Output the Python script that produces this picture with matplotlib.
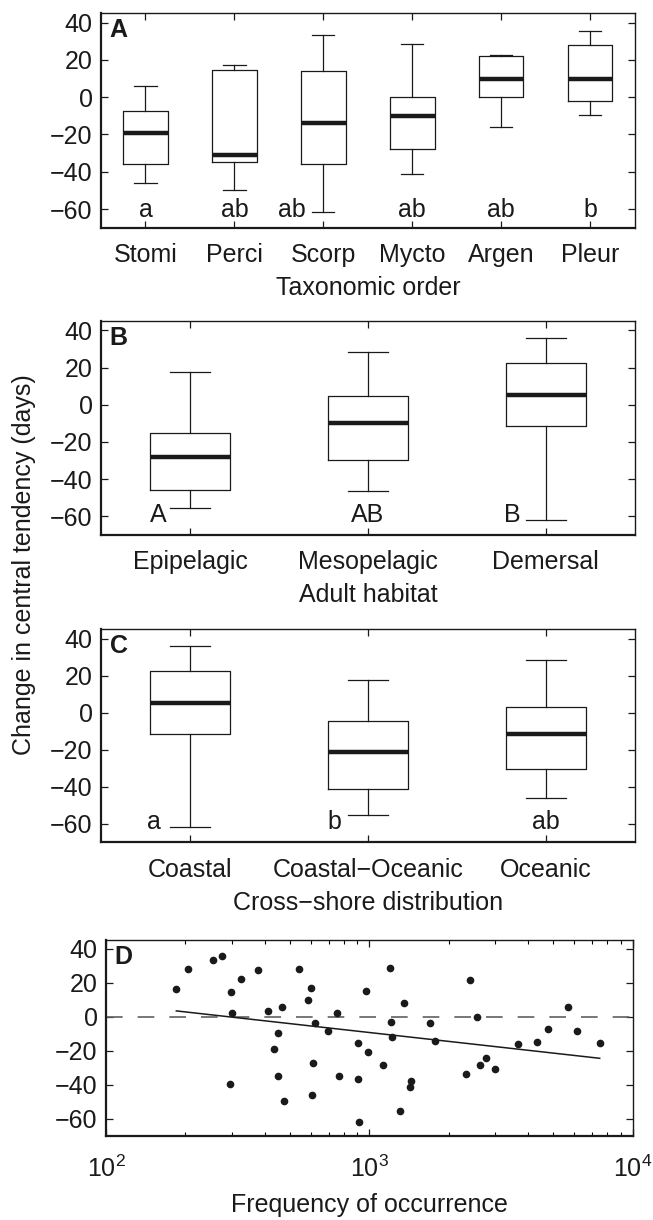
import numpy as np
import matplotlib
matplotlib.use('Agg')
import matplotlib.pyplot as plt
from matplotlib.ticker import LogLocator, NullFormatter

plt.rcParams['font.family'] = ['Liberation Sans', 'DejaVu Sans']
plt.rcParams['mathtext.fontset'] = 'custom'
plt.rcParams['mathtext.rm'] = 'Liberation Sans'
plt.rcParams['axes.unicode_minus'] = True

# ---- panel A: taxonomic order ----
tax_names = ['Stomi', 'Perci', 'Scorp', 'Mycto', 'Argen', 'Pleur']
tax_whislo = [-46.3, -50.0, -61.7, -41.3, -16.1, -9.3]
tax_q1 = [-36.0, -34.7, -35.8, -27.9, 0.2, -2.0]
tax_med = [-19.0, -31.0, -14.0, -10.2, 10.0, 9.5]
tax_q3 = [-7.2, 14.5, 14.1, 0.0, 22.2, 28.1]
tax_whishi = [5.9, 17.2, 33.6, 28.4, 22.7, 35.6]
tax_letters = ['a', 'ab', 'ab', 'ab', 'ab', 'b']
tax_letter_x = [1, 2, 2.65, 4, 5, 6]

# ---- panel B: adult habitat ----
hab_names = ['Epipelagic', 'Mesopelagic', 'Demersal']
hab_whislo = [-55.4, -46.4, -61.8]
hab_q1 = [-45.7, -29.6, -11.5]
hab_med = [-28.1, -10.0, 5.4]
hab_q3 = [-15.0, 4.7, 22.6]
hab_whishi = [17.4, 28.5, 35.8]
hab_letters = ['A', 'AB', 'B']
hab_letter_x = [0.82, 2.0, 2.81]

# ---- panel C: cross-shore distribution ----
cs_names = ['Coastal', 'Coastal\u2212Oceanic', 'Oceanic']
cs_whislo = [-61.5, -55.1, -46.2]
cs_q1 = [-11.4, -41.5, -30.2]
cs_med = [5.4, -21.5, -11.8]
cs_q3 = [22.4, -4.5, 3.0]
cs_whishi = [35.8, 17.4, 28.6]
cs_letters = ['a', 'b', 'ab']
cs_letter_x = [0.80, 1.81, 3.0]

# ---- panel D: frequency of occurrence vs change ----
freq = [185, 204, 254, 275, 327, 378, 299, 302, 297, 412, 464, 449, 434, 451,
        475, 539, 599, 585, 620, 612, 606, 698, 753, 767, 908, 908, 916, 971,
        985, 1130, 1198, 1211, 1222, 1358, 1304, 1439, 1426, 1698, 1770, 2416,
        2562, 2323, 2630, 2773, 2991, 3680, 4346, 4770, 5680, 6122, 7494]
change = [16.7, 28.1, 33.6, 35.6, 22.6, 27.9, 14.6, 2.0, -39.3, 3.4, 6.1, -9.4,
          -19.0, -34.8, -49.7, 28.5, 17.3, 10.2, -3.7, -27.1, -46.3, -8.4, 2.2,
          -35.1, -15.3, -36.7, -62.1, 15.0, -20.8, -28.3, 28.7, -3.1, -11.8, 8.1,
          -55.4, -37.9, -41.2, -3.5, -14.1, 22.0, 0.0, -33.8, -28.1, -24.1,
          -31.0, -16.1, -14.9, -7.2, 5.7, -8.4, -15.3]

FS = 18
TXT = '#1a1a1a'


def style_axes(ax):
    ax.tick_params(direction='in', top=True, right=True, length=5, width=0.9,
                   labelsize=FS, colors=TXT)
    ax.tick_params(axis='x', pad=11)
    ax.tick_params(axis='y', pad=6)
    ax.tick_params(which='minor', direction='in', top=True, right=True,
                   length=3, width=0.8)
    for side in ['top', 'right']:
        ax.spines[side].set_linewidth(1.0)
    for side in ['left', 'bottom']:
        ax.spines[side].set_linewidth(1.6)
    for sp in ax.spines.values():
        sp.set_color(TXT)
    ax.set_ylim(-70, 45)
    ax.set_yticks([-60, -40, -20, 0, 20, 40])


def box_panel(ax, names, lo, q1, med, q3, hi, width):
    stats = []
    for i in range(len(names)):
        stats.append(dict(med=med[i], q1=q1[i], q3=q3[i], whislo=lo[i],
                          whishi=hi[i], fliers=[], label=names[i]))
    ax.bxp(stats, positions=range(1, len(names) + 1), widths=width,
           showfliers=False,
           boxprops=dict(color=TXT, linewidth=0.9),
           whiskerprops=dict(color=TXT, linewidth=0.9),
           capprops=dict(color=TXT, linewidth=0.9),
           medianprops=dict(color=TXT, linewidth=3.2))
    ax.set_xlim(0.5, len(names) + 0.5)
    style_axes(ax)


def panel_letter(ax, s):
    ax.text(0.016, 0.978, s, transform=ax.transAxes, fontsize=FS,
            fontweight='bold', va='top', ha='left', color=TXT)


fig = plt.figure(figsize=(6.53, 12.2), dpi=100)

axA = fig.add_axes([0.1547, 0.8134, 0.8172, 0.1757])
box_panel(axA, tax_names, tax_whislo, tax_q1, tax_med, tax_q3, tax_whishi, 0.5)
for x, s in zip(tax_letter_x, tax_letters):
    axA.text(x, -64.5, s, ha='center', va='baseline', fontsize=FS, color=TXT)
axA.set_xlabel('Taxonomic order', fontsize=FS, color=TXT, labelpad=6.5)
panel_letter(axA, 'A')

axB = fig.add_axes([0.1547, 0.5615, 0.8172, 0.1754])
box_panel(axB, hab_names, hab_whislo, hab_q1, hab_med, hab_q3, hab_whishi, 0.45)
for x, s in zip(hab_letter_x, hab_letters):
    axB.text(x, -63, s, ha='center', va='baseline', fontsize=FS, color=TXT)
axB.set_xlabel('Adult habitat', fontsize=FS, color=TXT, labelpad=6.5)
panel_letter(axB, 'B')

axC = fig.add_axes([0.1547, 0.3096, 0.8172, 0.1746])
box_panel(axC, cs_names, cs_whislo, cs_q1, cs_med, cs_q3, cs_whishi, 0.45)
for x, s in zip(cs_letter_x, cs_letters):
    axC.text(x, -63, s, ha='center', va='baseline', fontsize=FS, color=TXT)
axC.set_xlabel('Cross\u2212shore distribution', fontsize=FS, color=TXT, labelpad=6.5)
panel_letter(axC, 'C')

axD = fig.add_axes([0.1623, 0.0691, 0.8066, 0.1600])
axD.set_xscale('log')
axD.set_xlim(1e2, 1e4)
axD.axhline(0, color='#606060', linewidth=1.2, dashes=(10, 9))
axD.plot(freq, change, 'o', color=TXT, markersize=4.5, linestyle='none')
lf = np.log10(freq)
slope, icpt = np.polyfit(lf, change, 1)
xs = np.array([min(freq), max(freq)])
axD.plot(xs, icpt + slope * np.log10(xs), color=TXT, linewidth=1.1)
style_axes(axD)
axD.xaxis.set_major_locator(LogLocator(base=10))
axD.xaxis.set_minor_locator(LogLocator(base=10, subs=np.arange(2, 10)))
axD.xaxis.set_minor_formatter(NullFormatter())
axD.tick_params(axis='x', pad=14.5)
axD.set_xlabel('Frequency of occurrence', fontsize=FS, color=TXT, labelpad=8)
panel_letter(axD, 'D')

fig.text(0.036, 0.537, 'Change in central tendency (days)', rotation=90,
         ha='center', va='center', fontsize=FS, color=TXT)

fig.savefig('out.png', dpi=100)
